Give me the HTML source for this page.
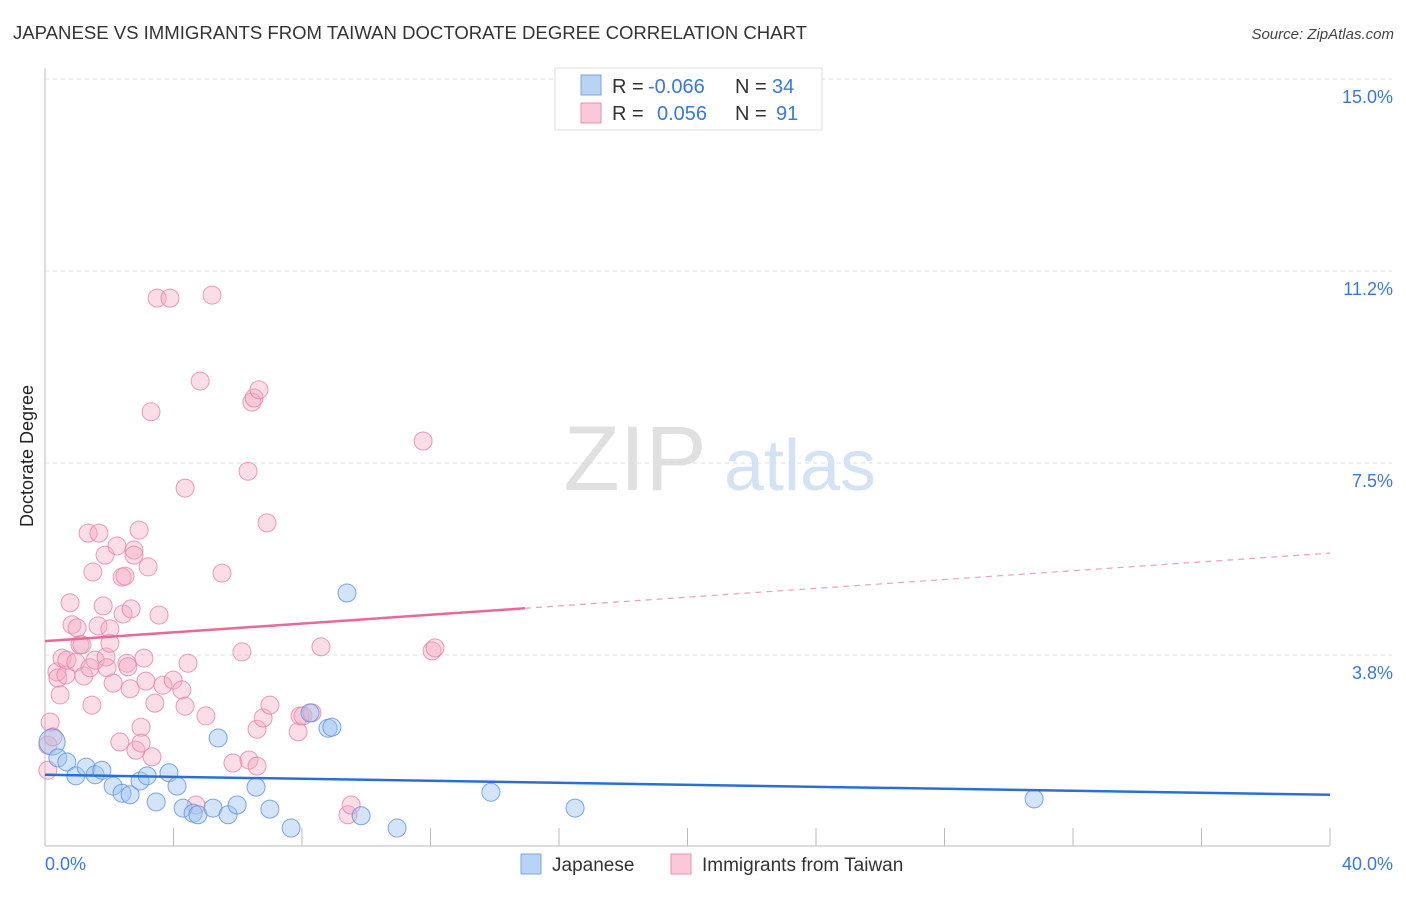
<!DOCTYPE html>
<html><head><meta charset="utf-8"><style>
body{margin:0;background:#fff;font-family:"Liberation Sans",sans-serif;}
svg text{font-family:"Liberation Sans",sans-serif;}
</style></head><body>
<svg id="chart" width="1406" height="892" viewBox="0 0 1406 892" xmlns="http://www.w3.org/2000/svg">
<text x="13" y="39" font-size="18" fill="#333" textLength="794" lengthAdjust="spacingAndGlyphs">JAPANESE VS IMMIGRANTS FROM TAIWAN DOCTORATE DEGREE CORRELATION CHART</text>
<text x="1394" y="39" font-size="15" fill="#444" font-style="italic" text-anchor="end">Source: ZipAtlas.com</text>
<text transform="translate(33,456) rotate(-90)" font-size="18" fill="#222" text-anchor="middle">Doctorate Degree</text>
<g opacity="0.45">
<text x="635" y="490" font-size="92" font-family="Liberation Serif" fill="#bbb" text-anchor="middle">ZIP</text>
<text x="800" y="490" font-size="72" fill="#9ec0e8" text-anchor="middle">atlas</text>
</g>
<g id="grid"></g><g id="axes"></g><g id="marks"></g><g id="trends"></g>
<g font-size="20">
<rect x="555" y="68" width="267" height="62" fill="#fff" stroke="#ddd"/>
<rect x="581" y="75" width="20" height="20" fill="#b8d3f4" stroke="#7aa6e0"/>
<rect x="581" y="103" width="20" height="20" fill="#fac8d8" stroke="#e890b0"/>
<text x="612" y="93" fill="#333">R =</text>
<text x="648" y="93" fill="#3a78d8">-0.066</text>
<text x="735" y="93" fill="#333">N =</text>
<text x="772" y="93" fill="#3a78d8">34</text>
<text x="612" y="120" fill="#333">R =</text>
<text x="657" y="120" fill="#3a78d8">0.056</text>
<text x="735" y="120" fill="#333">N =</text>
<text x="776" y="120" fill="#3a78d8">91</text>
</g>
<g>
<rect x="521" y="854" width="20" height="20" fill="#b8d3f4" stroke="#7aa6e0"/>
<text x="552" y="871" font-size="19" fill="#333">Japanese</text>
<rect x="671" y="854" width="20" height="20" fill="#fac8d8" stroke="#e890b0"/>
<text x="702" y="871" font-size="19" fill="#333">Immigrants from Taiwan</text>
</g>
</svg>
<script>
const yTicks=[3.75,7.5,11.25,15];
const yTickLabels=["3.8%","7.5%","11.2%","15.0%"];
const xTicks=[0,4,8,12,16,20,24,28,32,36,40];
const jpX=[0.22,0.40,0.68,0.96,1.28,1.56,1.77,2.12,2.40,2.65,2.96,3.18,3.46,3.86,4.11,4.30,4.61,4.76,5.23,5.39,5.70,5.98,6.57,7.00,7.66,8.25,8.81,8.93,9.40,9.84,10.96,13.88,16.50,30.79];
const jpY=[2.05,1.74,1.66,1.39,1.56,1.41,1.50,1.19,1.05,1.02,1.29,1.39,0.88,1.45,1.19,0.76,0.66,0.63,0.76,2.13,0.63,0.82,1.17,0.74,0.37,2.62,2.32,2.34,4.96,0.61,0.37,1.07,0.76,0.94];
const twX=[0.09,0.16,0.25,0.09,0.37,0.47,0.53,0.40,0.65,0.68,0.78,0.84,0.96,1.00,1.09,1.15,1.21,1.40,1.46,1.34,1.49,1.56,1.65,1.68,1.81,1.87,1.90,1.93,2.02,2.02,2.12,2.24,2.33,2.40,2.43,2.49,2.55,2.58,2.65,2.68,2.77,2.77,2.83,2.93,2.99,2.99,3.08,3.14,3.21,3.30,3.33,3.42,3.49,3.55,3.67,3.89,3.99,4.26,4.36,4.36,4.45,4.70,4.83,5.01,5.20,5.51,5.85,6.13,6.32,6.35,6.44,6.51,6.60,6.66,6.60,6.79,6.91,7.00,7.88,7.94,8.03,8.31,8.59,9.43,9.53,11.77,12.05,12.14];
const twY=[1.99,2.44,2.15,1.50,3.42,2.97,3.69,3.30,3.36,3.65,4.77,4.34,3.61,4.28,3.95,3.95,3.34,3.50,2.77,6.13,5.37,3.65,4.32,6.13,4.71,5.70,3.71,3.50,3.98,4.26,3.20,5.88,2.05,5.27,4.55,5.29,3.59,3.52,3.09,4.65,5.80,5.70,1.89,6.19,2.34,2.03,3.69,3.24,5.47,8.50,1.76,2.81,10.72,4.53,3.16,10.72,3.26,3.07,2.75,7.01,3.59,0.82,9.10,2.56,10.78,5.35,1.64,3.81,7.34,1.70,8.69,8.77,1.58,8.93,2.30,2.52,6.33,2.77,2.25,2.56,2.56,2.62,3.91,0.63,0.82,7.93,3.83,3.89];
const jpTrend=[1.41,1.02];
const twTrend=[4.02,5.74];
const twSolidEnd=14.94;
const NS="http://www.w3.org/2000/svg";
const X=v=>45+v/40*1285, Y=v=>847-v*51.2;
function mk(tag,attrs,parent){const e=document.createElementNS(NS,tag);for(const k in attrs)e.setAttribute(k,attrs[k]);parent.appendChild(e);return e;}
const grid=document.getElementById('grid'),axes=document.getElementById('axes'),marks=document.getElementById('marks'),trends=document.getElementById('trends');
yTicks.forEach((t,i)=>{
 const l=mk('line',{x1:45,x2:1392,y1:Y(t),y2:Y(t),stroke:'#ddd','stroke-dasharray':'4,4'},grid);
 
 
 const tx=mk('text',{x:1393,y:Y(t)+24,'font-size':18,fill:'#3a78d8','text-anchor':'end'},axes);
 tx.textContent=yTickLabels[i];
 
 
});
const ax=mk('line',{x1:45,x2:1330,y1:846,y2:846,stroke:'#bbb'},axes);


const ay=mk('line',{x1:45,x2:45,y1:68,y2:846,stroke:'#bbb'},axes);


xTicks.forEach(t=>{
 const l=mk('line',{x1:X(t),x2:X(t),y1:828,y2:846,stroke:'#bbb'},axes);
 
 
});
const xl0=mk('text',{x:45,y:870,'font-size':18,fill:'#3a78d8'},axes);xl0.textContent='0.0%';


const xl1=mk('text',{x:1393,y:870,'font-size':18,fill:'#3a78d8','text-anchor':'end'},axes);xl1.textContent='40.0%';


twX.forEach((x,i)=>{
 const c=mk('circle',{cx:X(x),cy:Y(twY[i]),r:9,fill:'rgba(245,170,195,0.4)',stroke:'rgba(230,130,165,0.8)','stroke-width':1},marks);
 
 
});
jpX.forEach((x,i)=>{
 const c=mk('circle',{cx:X(x),cy:Y(jpY[i]),r:i===0?13:9,fill:'rgba(160,195,240,0.45)',stroke:'rgba(90,145,220,0.8)','stroke-width':1},marks);
 
 
});
const bl=mk('line',{x1:X(0),y1:Y(jpTrend[0]),x2:X(40),y2:Y(jpTrend[1]),stroke:'#2a6fd6','stroke-width':2.5},trends);


const ty=x=>twTrend[0]+(twTrend[1]-twTrend[0])*x/40;
const pl=mk('line',{x1:X(0),y1:Y(ty(0)),x2:X(twSolidEnd),y2:Y(ty(twSolidEnd)),stroke:'#e8689a','stroke-width':2.5},trends);


const pd=mk('line',{x1:X(twSolidEnd),y1:Y(ty(twSolidEnd)),x2:X(40),y2:Y(ty(40)),stroke:'#e8a0bb','stroke-width':1.2,'stroke-dasharray':'6,5'},trends);


</script>
</body></html>
